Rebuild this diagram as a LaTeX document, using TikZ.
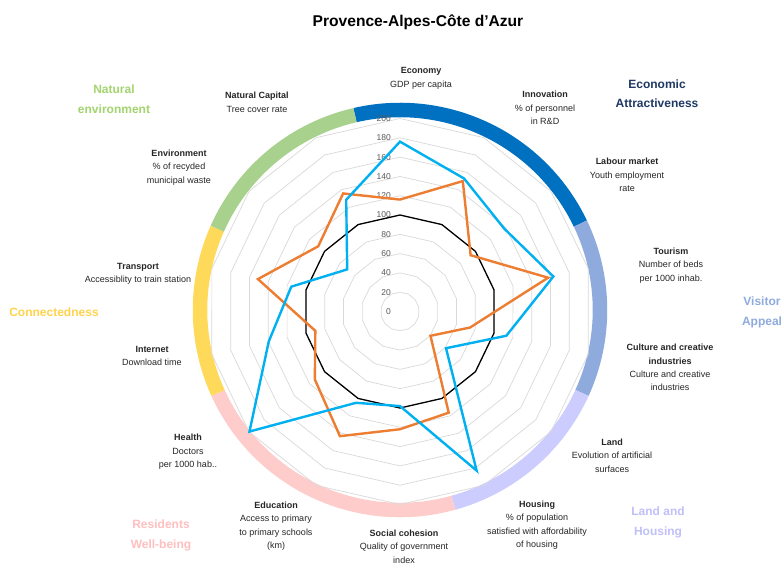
\documentclass[tikz,border=0pt]{standalone}
\usepackage{fontspec}
\setmainfont{Liberation Sans}
\definecolor{ecoblue}{HTML}{0070C0}
\definecolor{visblue}{HTML}{8FAADC}
\definecolor{lavring}{HTML}{CCCCFF}
\definecolor{pinkring}{HTML}{FFCCCC}
\definecolor{yelring}{HTML}{FFD95A}
\definecolor{greenring}{HTML}{A9D18E}
\definecolor{ecotext}{HTML}{203864}
\definecolor{vistext}{HTML}{8FAADC}
\definecolor{lavtext}{HTML}{C0C0F8}
\definecolor{pinktext}{HTML}{FFBFBF}
\definecolor{yeltext}{HTML}{FFD34D}
\definecolor{greentext}{HTML}{A3D46E}
\definecolor{serblue}{HTML}{00B0F0}
\definecolor{serorange}{HTML}{ED7D31}
\definecolor{gridgray}{HTML}{D9D9D9}
\definecolor{valgray}{HTML}{595959}
\tikzset{
  ringseg/.style={line width=14.5pt},
  gridline/.style={draw=gridgray, line width=0.7pt},
  vlab/.style={font=\fontsize{8.5}{9}\selectfont, text=valgray, inner sep=0pt, anchor=east},
  catlab/.style={font=\fontsize{9}{13.4}\selectfont, align=center, inner sep=0pt, text=black!85},
  grplab/.style={font=\fontsize{12}{19.5}\selectfont\bfseries, align=center, inner sep=0pt},
  serb/.style={draw=serblue, line width=2.4pt, line join=miter},
  sero/.style={draw=serorange, line width=2.4pt, line join=miter},
  serk/.style={draw=black, line width=1.3pt, line join=miter},
}
\begin{document}
\begin{tikzpicture}[x=1pt, y=-1pt]
\useasboundingbox (0,0) rectangle (781,566);
\fill[white] (0,0) rectangle (781,566);
\clip (0,0) rectangle (781,566);

% title
\node[font=\fontsize{15.6}{18}\selectfont\bfseries, inner sep=0pt] (title) at (418,22) {Provence-Alpes-Côte d’Azur};

% outer ring segments (coordinate angles = - visual angles)
\begin{scope}[shift={(400,310)}]
  \draw[ringseg, ecoblue]  (-103:200)   arc[start angle=-103,  end angle=-25.6, radius=200];
  \draw[ringseg, visblue]  (-25.6:200)  arc[start angle=-25.6, end angle=24.5,  radius=200];
  \draw[ringseg, lavring]  (24.5:200)   arc[start angle=24.5,  end angle=74.5,  radius=200];
  \draw[ringseg, pinkring] (74.5:200)   arc[start angle=74.5,  end angle=155.5, radius=200];
  \draw[ringseg, yelring]  (155.5:200)  arc[start angle=155.5, end angle=204,   radius=200];
  \draw[ringseg, greenring](204:200)    arc[start angle=204,   end angle=257,   radius=200];
\end{scope}

\begin{scope}[shift={(400,311.5)}]
  % grid polygons
  \foreach \r in {20,40,...,200} {
    \draw[gridline] ({-90}:{\r*0.965}) \foreach \k in {1,...,13} { -- ({\k*25.7143-90}:{\r*0.965}) } -- cycle;
  }
  % value labels
  \foreach \v in {0,20,...,200} {
    \node[vlab] (v\v) at (-9,{-\v*0.965}) {\v};
  }
  % reference series (100)
  \foreach \k in {0,...,13} {
    \coordinate (k\k) at ({\k*25.7143-90}:{100*0.965});
  }
  \draw[serk] (k0) -- (k1) -- (k2) -- (k3) -- (k4) -- (k5) -- (k6) -- (k7) -- (k8) -- (k9) -- (k10) -- (k11) -- (k12) -- (k13) -- cycle;
  % orange series
  \foreach \val [count=\i from 0] in {116,150,93.6,157.5,74.5,40.4,116.4,122,143.4,112.9,90,151,108.4,135.8} {
    \coordinate (o\i) at ({\i*25.7143-90}:{\val*0.965});
  }
  \draw[sero] (o0) -- (o1) -- (o2) -- (o3) -- (o4) -- (o5) -- (o6) -- (o7) -- (o8) -- (o9) -- (o10) -- (o11) -- (o12) -- (o13) -- cycle;
  % blue series
  \foreach \val [count=\i from 0] in {176,153,138,163,113,61,183,98,105,199.5,139.5,115.6,70,128.5} {
    \coordinate (b\i) at ({\i*25.7143-90}:{\val*0.965});
  }
  \draw[serb] (b0) -- (b1) -- (b2) -- (b3) -- (b4) -- (b5) -- (b6) -- (b7) -- (b8) -- (b9) -- (b10) -- (b11) -- (b12) -- (b13) -- cycle;
\end{scope}

% category labels
\node[catlab] (economy) at (421,78.5) {\textbf{Economy}\\GDP per capita};
\node[catlab] (innov) at (545,108) {\textbf{Innovation}\\\% of personnel\\in R\&D};
\node[catlab] (labour) at (627,175) {\textbf{Labour market}\\Youth employment\\rate};
\node[catlab] (tourism) at (671,265.5) {\textbf{Tourism}\\Number of beds\\per 1000 inhab.};
\node[catlab] (culture) at (670,367.5) {\textbf{Culture and creative}\\\textbf{industries}\\Culture and creative\\industries};
\node[catlab] (land) at (612,455.7) {\textbf{Land}\\Evolution of artificial\\surfaces};
\node[catlab] (housing) at (537,525) {\textbf{Housing}\\\% of population\\satisfied with affordability\\of housing};
\node[catlab] (social) at (404,546.5) {\textbf{Social cohesion}\\Quality of government\\index};
\node[catlab] (educ) at (276,526) {\textbf{Education}\\Access to primary\\to primary schools\\(km)};
\node[catlab] (health) at (188,452) {\textbf{Health}\\Doctors\\per 1000 hab..};
\node[catlab] (internet) at (152,355.7) {\textbf{Internet}\\Download time};
\node[catlab] (transport) at (138,273.7) {\textbf{Transport}\\Accessiblity to train station};
\node[catlab] (environ) at (179,167.5) {\textbf{Environment}\\\% of recyded\\municipal waste};
\node[catlab] (natcap) at (257,102.3) {\textbf{Natural Capital}\\Tree cover rate};

% group labels
\node[grplab, text=greentext] (gnat) at (114,99.3) {Natural\\environment};
\node[grplab, text=yeltext] (gcon) at (54,312.7) {Connectedness};
\node[grplab, text=ecotext] (geco) at (657,93.8) {Economic\\Attractiveness};
\node[grplab, text=vistext] (gvis) at (762,312.5) {Visitor\\Appeal};
\node[grplab, text=lavtext] (gland) at (658,522.5) {Land and\\Housing};
\node[grplab, text=pinktext] (gres) at (161,535.3) {Residents\\Well-being};
\end{tikzpicture}
\end{document}
